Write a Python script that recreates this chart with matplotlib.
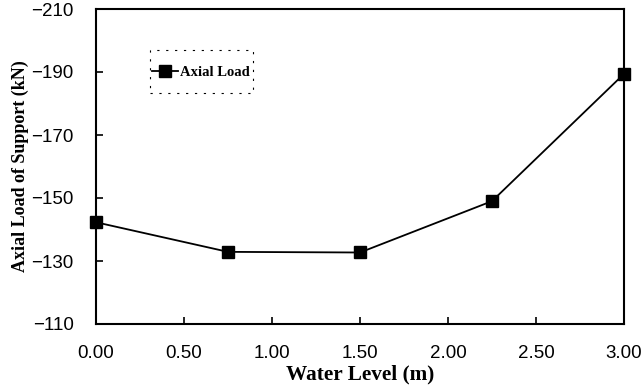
import numpy as np
import matplotlib.pyplot as plt
from matplotlib.patches import Rectangle
from matplotlib.ticker import FormatStrFormatter

# data
water_level = [0.0, 0.75, 1.5, 2.25, 3.0]
axial_load = [-142.3, -132.9, -132.7, -149.0, -189.4]

x_ticks = [0.0, 0.5, 1.0, 1.5, 2.0, 2.5, 3.0]
y_ticks = [-110, -130, -150, -170, -190, -210]

fig = plt.figure(figsize=(6.41, 3.88), dpi=100)
ax = fig.add_axes([96 / 641, 1 - 324 / 388, 528 / 641, 315 / 388])

ax.plot(water_level, axial_load, color='black', lw=1.3, marker='s',
        markersize=9, markerfacecolor='black', label='Axial Load', clip_on=False)

ax.set_xlim(0, 3)
ax.set_ylim(-110, -210)
ax.set_xticks(x_ticks)
ax.set_yticks(y_ticks)
ax.xaxis.set_major_formatter(FormatStrFormatter('%.2f'))

ax.tick_params(direction='in', length=5, width=1.2, labelsize=13.5)
ax.tick_params(axis='x', pad=15)
ax.tick_params(axis='y', pad=16)
for lab in ax.get_xticklabels() + ax.get_yticklabels():
    lab.set_family('Liberation Sans')
for sp in ax.spines.values():
    sp.set_linewidth(1.5)

ax.set_xlabel('Water Level (m)', family='Liberation Serif', fontweight='bold',
              fontsize=15.3, labelpad=2)
ax.set_ylabel('Axial Load of Support (kN)', family='Liberation Serif',
              fontweight='bold', fontsize=13, labelpad=2)

# legend without its own frame; dashed box drawn separately
leg = ax.legend(loc='center left', bbox_to_anchor=(0.106, 0.80), frameon=False,
                prop={'family': 'Liberation Serif', 'weight': 'bold', 'size': 10.5},
                handlelength=1.8, handletextpad=0.15, borderpad=0.0,
                borderaxespad=0.0, markerscale=0.9)
ax.add_patch(Rectangle((0.102, 0.733), 0.195, 0.137, transform=ax.transAxes,
                       fill=False, edgecolor='black', lw=0.8,
                       linestyle=(0, (2, 6))))

fig.savefig('out.png', dpi=100)
